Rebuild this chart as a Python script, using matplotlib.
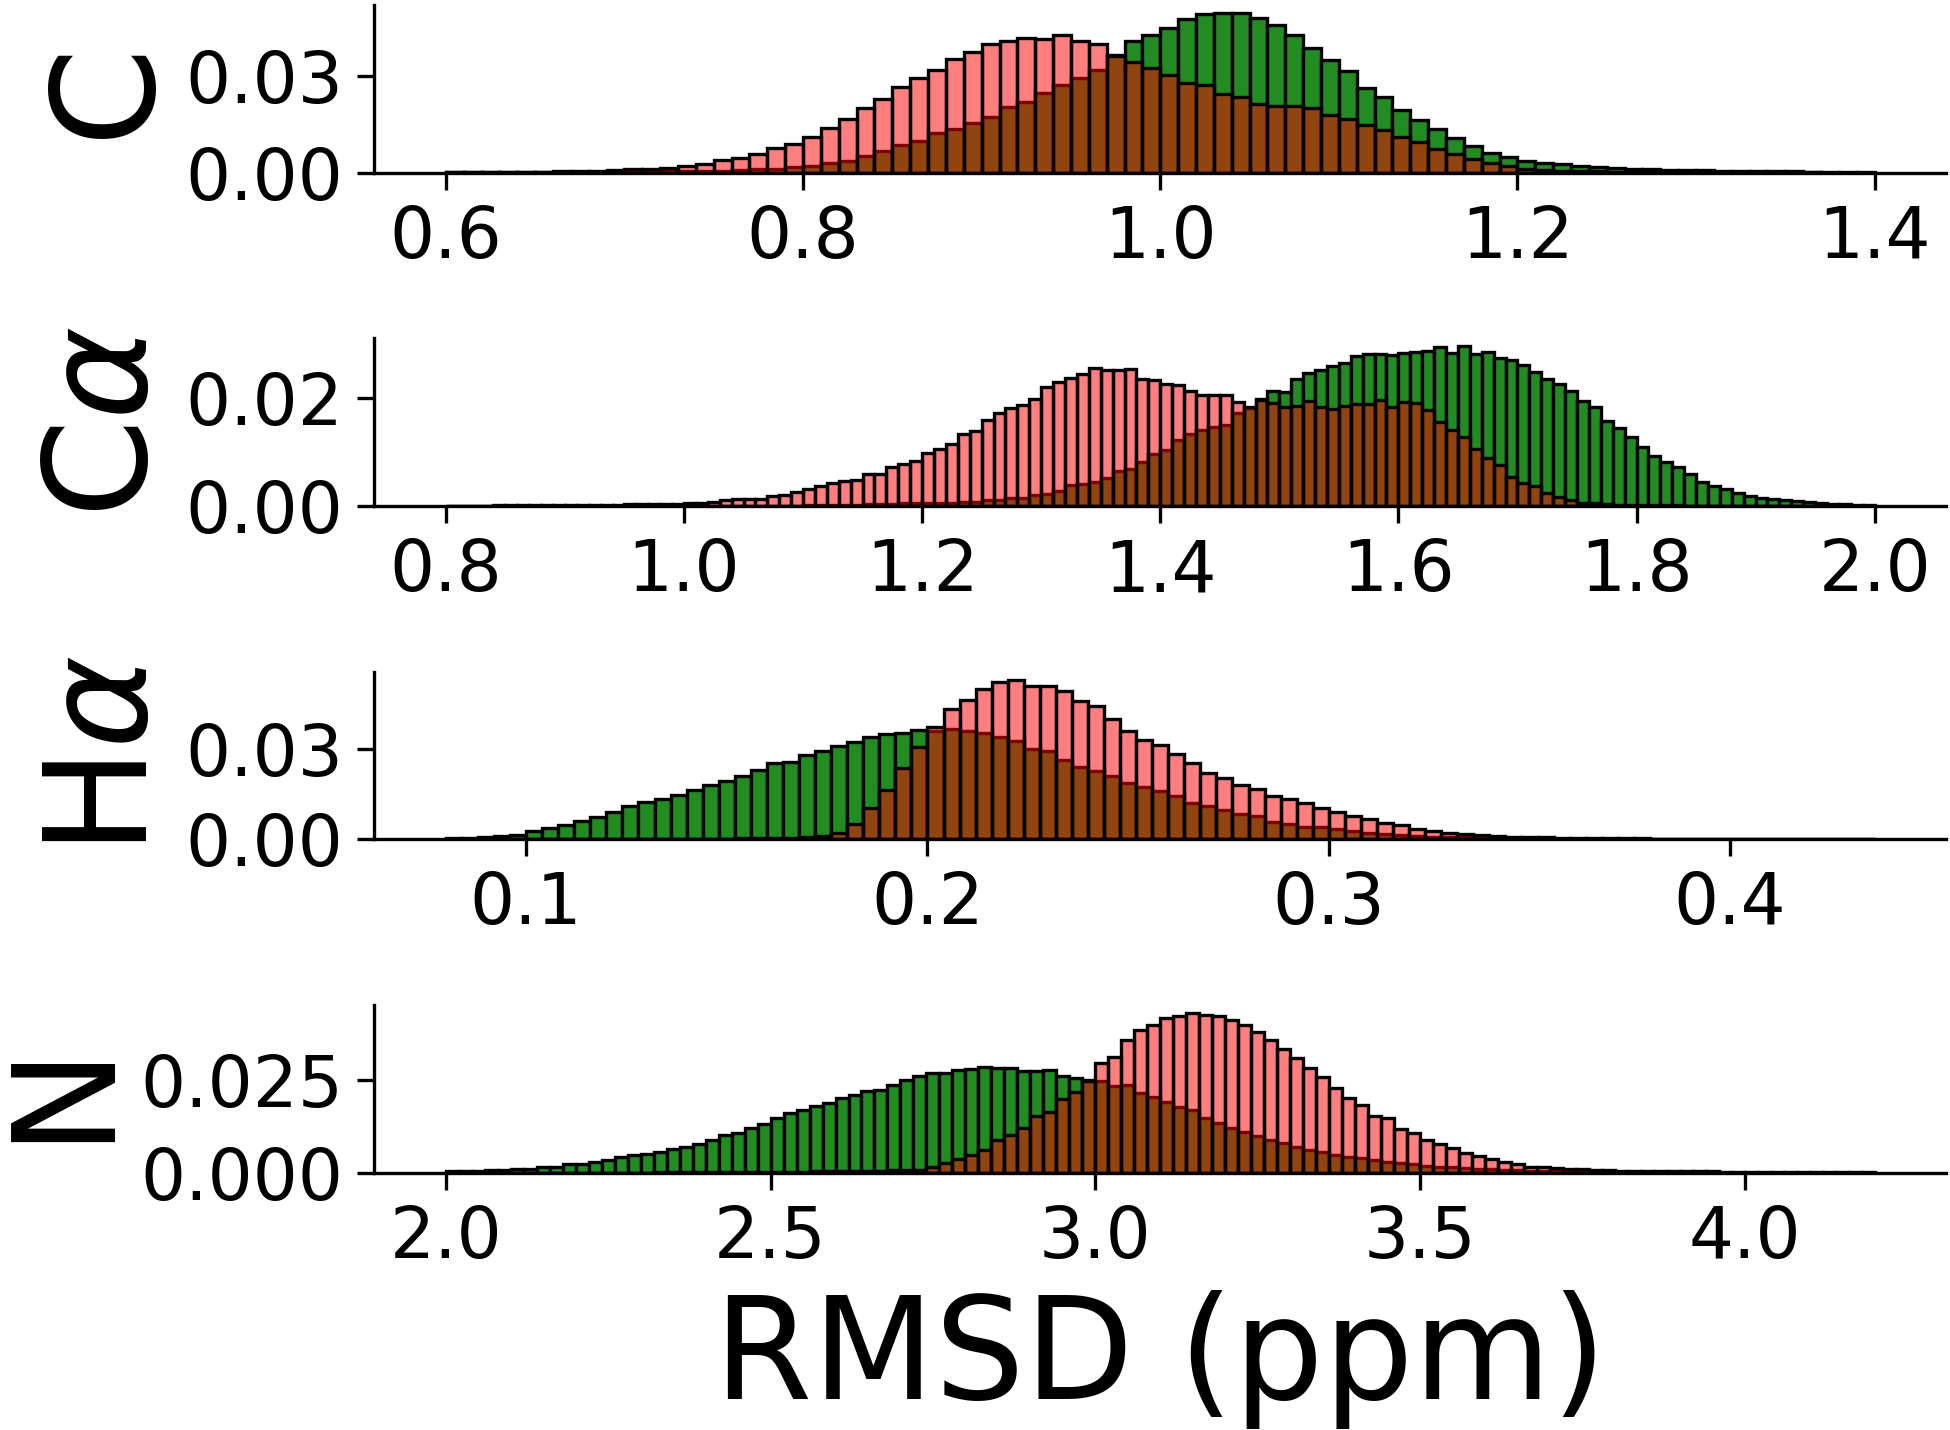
import numpy as np
import matplotlib
matplotlib.use('Agg')
import matplotlib.pyplot as plt

# C (bins of 0.01 from 0.6)
c_start, c_width = 0.6, 0.01
c_green = [0.0001, 0.0001, 0.0001, 0.0001, 0.0001, 0.0002, 0.0002, 0.0002, 0.0003, 0.0003,
           0.0003, 0.0004, 0.0004, 0.0004, 0.0005, 0.0006, 0.0007, 0.0010, 0.0012, 0.0016,
           0.0021, 0.0030, 0.0036, 0.0050, 0.0068, 0.0085, 0.0097, 0.0124, 0.0136, 0.0155,
           0.0172, 0.0204, 0.0221, 0.0249, 0.0274, 0.0296, 0.0318, 0.0365, 0.0411, 0.0428,
           0.0449, 0.0478, 0.0495, 0.0497, 0.0496, 0.0480, 0.0459, 0.0428, 0.0388, 0.0352,
           0.0316, 0.0264, 0.0236, 0.0196, 0.0163, 0.0137, 0.0106, 0.0083, 0.0061, 0.0049,
           0.0036, 0.0030, 0.0025, 0.0021, 0.0016, 0.0013, 0.0012, 0.0011, 0.0009, 0.0008,
           0.0007, 0.0006, 0.0005, 0.0005, 0.0004, 0.0004, 0.0003, 0.0003, 0.0002, 0.0002]
c_red = [0.0002, 0.0002, 0.0002, 0.0002, 0.0003, 0.0003, 0.0004, 0.0005, 0.0006, 0.0008,
         0.0010, 0.0012, 0.0015, 0.0021, 0.0028, 0.0038, 0.0046, 0.0059, 0.0077, 0.0090,
         0.0110, 0.0140, 0.0168, 0.0200, 0.0230, 0.0265, 0.0296, 0.0320, 0.0355, 0.0376,
         0.0400, 0.0410, 0.0418, 0.0417, 0.0427, 0.0410, 0.0400, 0.0362, 0.0345, 0.0325,
         0.0303, 0.0279, 0.0272, 0.0246, 0.0236, 0.0215, 0.0207, 0.0207, 0.0200, 0.0179,
         0.0168, 0.0147, 0.0132, 0.0111, 0.0096, 0.0073, 0.0057, 0.0042, 0.0030, 0.0020,
         0.0012, 0.0008, 0.0006, 0.0005, 0.0004, 0.0003, 0.0003, 0.0002, 0.0002, 0.0002,
         0.0001, 0.0001, 0.0001, 0.0001, 0.0001, 0.0001, 0.0001, 0.0000, 0.0000, 0.0000]

# C-alpha (bins of 0.01 from 0.8)
ca_start, ca_width = 0.8, 0.01
ca_green = [0, 0, 0, 0, 0, 0, 0, 0, 0, 0,
            0, 0, 0, 0, 0, 0, 0, 0, 0, 0,
            0, 0, 0, 0, 0, 0, 0, 0, 0, 0,
            0.0001, 0.0001, 0.0002, 0.0002, 0.0002, 0.0003, 0.0003, 0.0004, 0.0005, 0.0005,
            0.0005, 0.0005, 0.0006, 0.0007, 0.0008, 0.0011, 0.0011, 0.0015, 0.0015, 0.0020,
            0.0022, 0.0028, 0.0039, 0.0040, 0.0045, 0.0052, 0.0064, 0.0068, 0.0082, 0.0097,
            0.0104, 0.0122, 0.0133, 0.0140, 0.0147, 0.0150, 0.0172, 0.0182, 0.0199, 0.0213,
            0.0212, 0.0235, 0.0247, 0.0252, 0.0259, 0.0265, 0.0278, 0.0281, 0.0281, 0.0280,
            0.0283, 0.0285, 0.0287, 0.0294, 0.0284, 0.0296, 0.0281, 0.0286, 0.0275, 0.0270,
            0.0262, 0.0249, 0.0236, 0.0227, 0.0213, 0.0195, 0.0183, 0.0158, 0.0144, 0.0127,
            0.0109, 0.0093, 0.0081, 0.0073, 0.0060, 0.0045, 0.0036, 0.0031, 0.0023, 0.0019,
            0.0015, 0.0013, 0.0011, 0.0009, 0.0008, 0.0006, 0.0004, 0.0003, 0.0002, 0.0002]
ca_red = [0, 0, 0, 0, 0.0001, 0.0001, 0.0001, 0.0001, 0.0001, 0.0001,
          0.0001, 0.0002, 0.0002, 0.0002, 0.0002, 0.0003, 0.0003, 0.0003, 0.0004, 0.0004,
          0.0005, 0.0006, 0.0008, 0.0010, 0.0012, 0.0013, 0.0013, 0.0019, 0.0020, 0.0025,
          0.0031, 0.0036, 0.0042, 0.0047, 0.0048, 0.0059, 0.0059, 0.0072, 0.0077, 0.0084,
          0.0099, 0.0106, 0.0115, 0.0133, 0.0139, 0.0160, 0.0172, 0.0182, 0.0187, 0.0199,
          0.0220, 0.0229, 0.0238, 0.0244, 0.0256, 0.0252, 0.0252, 0.0254, 0.0236, 0.0234,
          0.0227, 0.0224, 0.0213, 0.0205, 0.0205, 0.0205, 0.0193, 0.0184, 0.0197, 0.0190,
          0.0184, 0.0185, 0.0194, 0.0183, 0.0179, 0.0185, 0.0189, 0.0189, 0.0196, 0.0184,
          0.0193, 0.0191, 0.0178, 0.0156, 0.0141, 0.0128, 0.0105, 0.0089, 0.0076, 0.0054,
          0.0042, 0.0036, 0.0023, 0.0017, 0.0010, 0.0006, 0.0005, 0.0003, 0.0002, 0.0002,
          0.0001, 0.0001, 0.0001, 0.0001, 0, 0, 0, 0, 0, 0,
          0, 0, 0, 0, 0, 0, 0, 0, 0, 0]

# H-alpha (bins of 0.004 from 0.08)
ha_start, ha_width = 0.08, 0.004
ha_green = [0.0004, 0.0005, 0.0009, 0.0011, 0.0015, 0.0028, 0.0036, 0.0047, 0.0061, 0.0074,
            0.0091, 0.0109, 0.0124, 0.0133, 0.0147, 0.0164, 0.0180, 0.0194, 0.0211, 0.0231,
            0.0252, 0.0258, 0.0280, 0.0294, 0.0309, 0.0324, 0.0339, 0.0350, 0.0352, 0.0363,
            0.0361, 0.0367, 0.0361, 0.0353, 0.0339, 0.0325, 0.0299, 0.0293, 0.0264, 0.0240,
            0.0226, 0.0209, 0.0187, 0.0173, 0.0159, 0.0142, 0.0122, 0.0109, 0.0096, 0.0084,
            0.0076, 0.0056, 0.0051, 0.0042, 0.0042, 0.0033, 0.0026, 0.0022, 0.0017, 0.0013,
            0.0010, 0.0008, 0.0008, 0.0006, 0.0005, 0.0004, 0.0003, 0.0003, 0.0003, 0.0002,
            0.0002, 0.0002, 0.0002, 0.0001, 0.0001, 0.0001, 0.0001, 0.0001, 0.0001, 0.0001,
            0.0001, 0, 0, 0, 0, 0, 0, 0, 0]
ha_red = [0, 0, 0, 0, 0, 0, 0, 0, 0.0001, 0.0001,
          0.0001, 0.0001, 0.0001, 0.0001, 0.0002, 0.0002, 0.0002, 0.0002, 0.0003, 0.0003,
          0.0003, 0.0004, 0.0006, 0.0010, 0.0022, 0.0050, 0.0105, 0.0162, 0.0238, 0.0308,
          0.0372, 0.0433, 0.0461, 0.0500, 0.0522, 0.0530, 0.0508, 0.0510, 0.0492, 0.0459,
          0.0442, 0.0400, 0.0359, 0.0331, 0.0314, 0.0284, 0.0253, 0.0220, 0.0203, 0.0181,
          0.0167, 0.0144, 0.0133, 0.0120, 0.0103, 0.0092, 0.0076, 0.0067, 0.0053, 0.0046,
          0.0034, 0.0028, 0.0022, 0.0017, 0.0014, 0.0011, 0.0009, 0.0007, 0.0007, 0.0005,
          0.0005, 0.0004, 0.0004, 0.0003, 0.0003, 0.0002, 0.0002, 0.0002, 0.0002, 0.0001,
          0.0001, 0.0001, 0.0001, 0.0001, 0.0001, 0.0001, 0.0001, 0.0001, 0]

# N (bins of 0.02 from 2.0)
n_start, n_width = 2.0, 0.02
n_green = [0.0003, 0.0004, 0.0005, 0.0007, 0.0008, 0.0009, 0.0010, 0.0016, 0.0016, 0.0023,
           0.0023, 0.0028, 0.0034, 0.0042, 0.0048, 0.0051, 0.0055, 0.0063, 0.0070, 0.0078,
           0.0088, 0.0102, 0.0107, 0.0122, 0.0132, 0.0147, 0.0161, 0.0170, 0.0179, 0.0188,
           0.0201, 0.0210, 0.0222, 0.0224, 0.0237, 0.0251, 0.0262, 0.0269, 0.0271, 0.0278,
           0.0281, 0.0285, 0.0283, 0.0283, 0.0276, 0.0276, 0.0278, 0.0262, 0.0256, 0.0250,
           0.0247, 0.0235, 0.0237, 0.0215, 0.0206, 0.0192, 0.0177, 0.0170, 0.0147, 0.0134,
           0.0120, 0.0111, 0.0099, 0.0088, 0.0081, 0.0070, 0.0061, 0.0057, 0.0048, 0.0043,
           0.0039, 0.0034, 0.0030, 0.0025, 0.0023, 0.0019, 0.0016, 0.0014, 0.0012, 0.0010,
           0.0009, 0.0007, 0.0006, 0.0005, 0.0004, 0.0003, 0.0003, 0.0002, 0.0002, 0.0002,
           0.0001, 0.0001, 0.0001, 0.0001, 0.0001, 0.0001, 0.0001, 0, 0, 0,
           0, 0, 0, 0, 0, 0, 0, 0, 0, 0]
n_red = [0, 0, 0, 0, 0, 0, 0, 0, 0, 0,
         0, 0, 0, 0, 0, 0, 0.0001, 0.0001, 0.0001, 0.0001,
         0.0001, 0.0001, 0.0001, 0.0001, 0.0002, 0.0002, 0.0002, 0.0002, 0.0003, 0.0003,
         0.0003, 0.0004, 0.0004, 0.0005, 0.0006, 0.0007, 0.0008, 0.0016, 0.0025, 0.0036,
         0.0048, 0.0061, 0.0088, 0.0102, 0.0120, 0.0152, 0.0165, 0.0199, 0.0217, 0.0248,
         0.0296, 0.0312, 0.0358, 0.0385, 0.0400, 0.0418, 0.0423, 0.0432, 0.0427, 0.0424,
         0.0412, 0.0400, 0.0382, 0.0359, 0.0334, 0.0310, 0.0283, 0.0258, 0.0230, 0.0201,
         0.0183, 0.0154, 0.0147, 0.0117, 0.0107, 0.0088, 0.0078, 0.0066, 0.0054, 0.0045,
         0.0036, 0.0030, 0.0023, 0.0016, 0.0014, 0.0012, 0.0010, 0.0009, 0.0007, 0.0007,
         0.0005, 0.0005, 0.0005, 0.0004, 0.0004, 0.0003, 0.0003, 0.0003, 0.0002, 0.0002,
         0.0002, 0.0002, 0.0001, 0.0001, 0.0001, 0.0001, 0.0001, 0.0001, 0.0001, 0.0001]

labels = ['C', r'C$\alpha$', r'H$\alpha$', 'N']
xticks = [[0.6, 0.8, 1.0, 1.2, 1.4],
          [0.8, 1.0, 1.2, 1.4, 1.6, 1.8, 2.0],
          [0.1, 0.2, 0.3, 0.4],
          [2.0, 2.5, 3.0, 3.5, 4.0]]
yticks = [[0, 0.03], [0, 0.02], [0, 0.03], [0, 0.025]]
ytick_fmt = ['%.2f', '%.2f', '%.2f', '%.3f']

panels = [(c_start, c_width, c_green, c_red),
          (ca_start, ca_width, ca_green, ca_red),
          (ha_start, ha_width, ha_green, ha_red),
          (n_start, n_width, n_green, n_red)]

fig, axes = plt.subplots(4, 1, figsize=(6.5, 1430 / 300), dpi=300)
fig.subplots_adjust(left=0.192, right=0.998, top=0.9965, bottom=0.18, hspace=0.99)

for i, ax in enumerate(axes):
    start, width, green, red = panels[i]
    left = start + width * np.arange(len(green))
    ax.bar(left, green, width=width, align='edge', color='forestgreen',
           edgecolor='k', linewidth=0.8)
    ax.bar(left, red, width=width, align='edge', color=(1, 0, 0, 0.5),
           edgecolor='k', linewidth=0.8)
    ax.set_xticks(xticks[i])
    ax.set_yticks(yticks[i])
    ax.yaxis.set_major_formatter(plt.FormatStrFormatter(ytick_fmt[i]))
    ax.tick_params(labelsize=17, length=4)
    ax.set_ylabel(labels[i], fontsize=34, labelpad=2)
    ax.spines['top'].set_visible(False)
    ax.spines['right'].set_visible(False)

axes[-1].set_xlabel('RMSD (ppm)', fontsize=34)

plt.savefig('out.png', dpi=300)
